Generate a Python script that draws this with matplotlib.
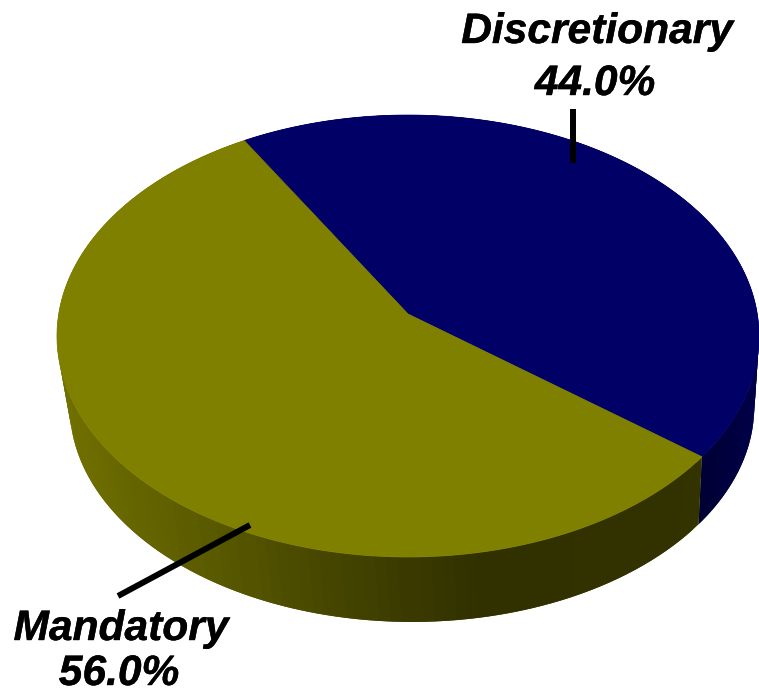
import numpy as np
import matplotlib
matplotlib.use('Agg')
import matplotlib.pyplot as plt
import matplotlib.patheffects as pe
from matplotlib.patches import Polygon

labels = ["Discretionary", "Mandatory"]
values = [44.0, 56.0]
top_colors = ["#000066", "#808000"]
start_angle = 120.6

# side shading: screen x -> brightness of the rim
shade_x = [57, 200, 300, 400, 480, 760]
shade_olive = [0.88, 0.71, 0.58, 0.46, 0.38, 0.40]


def project(theta, r=1.0, scale=1.0, drop=0.0, shift=0.0):
    # circle seen in perspective, pixels
    X = r * np.cos(theta)
    Y = r * np.sin(theta)
    w = 1 + 0.0996 * Y
    return 408 + shift + scale * 349.3 * X / w, 314 + drop - scale * 218.8 * Y / w


fig = plt.figure(figsize=(7.59, 6.93), dpi=100)
ax = fig.add_axes([0, 0, 1, 1])
ax.set_xlim(0, 759)
ax.set_ylim(693, 0)
ax.axis("off")

angles = start_angle - np.cumsum([0] + values) * 3.6

# rim first, each strip runs over the next one so no seams show
for i in range(2):
    th = np.radians(np.linspace(angles[i], angles[i + 1], 121))
    x1, y1 = project(th)
    x2, y2 = project(th, scale=0.975, drop=71, shift=4)
    base = np.array(matplotlib.colors.to_rgb(top_colors[i]))
    for j in range(len(th) - 1):
        e = min(j + 3, len(th))
        xm = (x1[j] + x1[j + 1]) / 2
        if i == 0:
            k = np.interp(xm, [700, 760], [0.5, 0.72])
        else:
            k = np.interp(xm, shade_x, shade_olive)
        poly = np.column_stack([np.r_[x1[j:e], x2[j:e][::-1]],
                                np.r_[y1[j:e], y2[j:e][::-1]]])
        ax.add_patch(Polygon(poly, closed=True, fc=base * k, ec="none"))

# top faces
for i in range(2):
    th = np.radians(np.linspace(angles[i], angles[i + 1], 200))
    x, y = project(th)
    cx, cy = project(0.0, r=0.0)
    ax.add_patch(Polygon(np.column_stack([np.r_[cx, x], np.r_[cy, y]]), closed=True,
                         fc=top_colors[i], ec=top_colors[i], lw=0.5))

# leader lines
ax.plot([573, 573], [109, 163], color="black", lw=4.3, solid_capstyle="butt")
ax.plot([118, 250], [596, 525], color="black", lw=4.3, solid_capstyle="butt")

font = dict(family="Liberation Sans", weight="bold", style="italic", size=30.6,
            color="black", ha="center", va="baseline",
            path_effects=[pe.withStroke(linewidth=0.3, foreground="black")])
ax.text(597, 43, labels[0], **font)
ax.text(595, 95, "%.1f%%" % values[0], **font)
ax.text(121, 640, labels[1], **font)
ax.text(119, 685, "%.1f%%" % values[1], **font)

fig.savefig("out.png", dpi=100)
